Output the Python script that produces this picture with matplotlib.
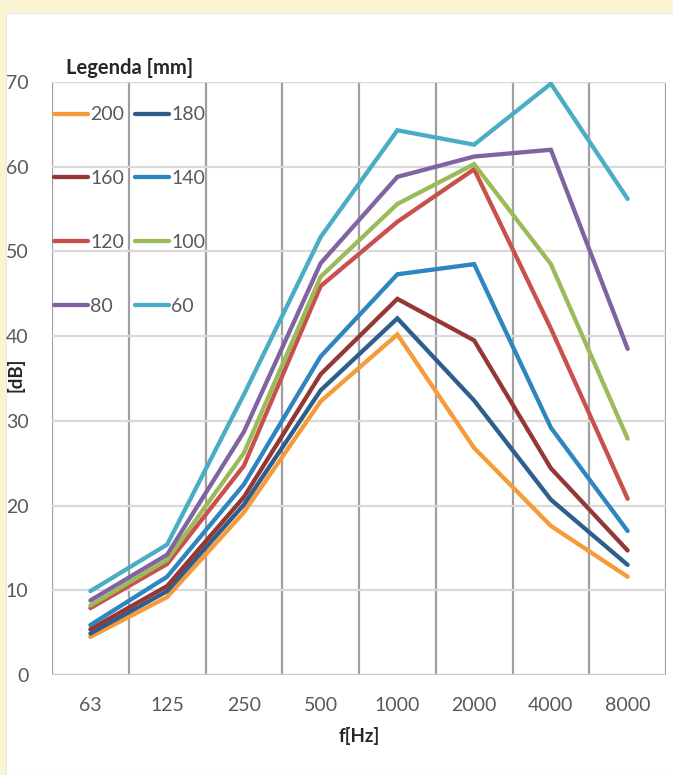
import numpy as np
import matplotlib
matplotlib.use("Agg")
import matplotlib.pyplot as plt
from matplotlib.patches import Rectangle

freqs = ["63", "125", "250", "500", "1000", "2000", "4000", "8000"]

# thickness [mm] -> sound level [dB]
d200 = [4.5, 9.2, 19.2, 32.3, 40.2, 26.8, 17.6, 11.6]
d180 = [4.9, 9.9, 20.1, 33.6, 42.1, 32.4, 20.7, 13.0]
d160 = [5.4, 10.5, 21.0, 35.5, 44.4, 39.5, 24.4, 14.7]
d140 = [5.9, 11.6, 22.5, 37.6, 47.3, 48.5, 29.2, 17.0]
d120 = [7.9, 13.1, 24.7, 45.9, 53.5, 59.7, 40.9, 20.8]
d100 = [8.2, 13.6, 26.2, 47.0, 55.6, 60.3, 48.5, 27.9]
d80 = [8.8, 14.2, 28.7, 48.6, 58.8, 61.2, 62.0, 38.5]
d60 = [9.9, 15.4, 33.1, 51.7, 64.3, 62.6, 69.8, 56.2]

labels = ["200", "180", "160", "140", "120", "100", "80", "60"]
series = [d200, d180, d160, d140, d120, d100, d80, d60]
colors = ["#F79A3A", "#2E5F8C", "#953735", "#2E86C1",
          "#C8504D", "#9BBB59", "#8064A2", "#4BACC6"]

plt.rcParams['font.family'] = ['Lato', 'DejaVu Sans']

fig = plt.figure(figsize=(6.73, 7.75), dpi=100, facecolor="#FBF3D3")
fig.patches.append(Rectangle((6 / 673, 0), 1, 1 - 13 / 775, transform=fig.transFigure,
                             facecolor="white", edgecolor="#E6E6E6", lw=0.8, zorder=-5))

ax = fig.add_axes([52 / 673, 1 - 675 / 775, 614 / 673, 593 / 775])
ax.set_facecolor("none")
ax.set_zorder(2)

x = np.arange(len(freqs))
lines = []
for lab, ys, c in zip(labels, series, colors):
    ln, = ax.plot(x, ys, color=c, lw=3.1, label=lab, solid_capstyle="round",
                  solid_joinstyle="miter", zorder=3)
    lines.append(ln)

ax.set_xlim(-0.5, len(freqs) - 0.5)
ax.set_ylim(0, 70)
ax.set_yticks(np.arange(0, 71, 10))
ax.set_xticks(x)
ax.set_xticklabels(freqs)
ax.set_xticks(np.arange(-0.5, len(freqs), 1), minor=True)

ax.grid(axis="y", which="major", color="#D9D9D9", lw=1.6, zorder=1)
ax.grid(axis="x", which="minor", color="#A0A0A4", lw=1.6, zorder=1)
ax.grid(axis="x", which="major", visible=False)
for s in ax.spines.values():
    s.set_visible(False)
ax.axhline(0, color="#C8C8C8", lw=1.6, zorder=2)

ax.tick_params(axis="both", which="both", length=0)
ax.tick_params(axis="x", pad=16, labelsize=14, labelcolor="#595959")
ax.tick_params(axis="y", pad=17, labelsize=14, labelcolor="#595959")

ax.set_xlabel("f[Hz]", fontsize=13.5, fontweight="bold", color="#262626", labelpad=9)
fig.text(15 / 673, 1 - 375 / 775, "[dB]", rotation=90, fontsize=13.5, fontweight="bold",
         color="#262626", ha="center", va="center")

# legend filled row by row like the original
order = [0, 2, 4, 6, 1, 3, 5, 7]
leg = ax.legend([lines[i] for i in order], [labels[i] for i in order], ncol=2,
                loc="upper left", bbox_to_anchor=(0.0035, 0.959),
                frameon=False, fontsize=14, labelspacing=2.41, handlelength=1.75,
                handletextpad=0.1, columnspacing=0.57, borderaxespad=0, borderpad=0)
for t in leg.get_texts():
    t.set_color("#595959")
fig.text(130 / 673, 1 - 68 / 775, "Legenda [mm]", fontsize=14.5, fontweight="bold",
         color="#262626", ha="center", va="center")

fig.savefig("out.png", dpi=100, facecolor=fig.get_facecolor())
